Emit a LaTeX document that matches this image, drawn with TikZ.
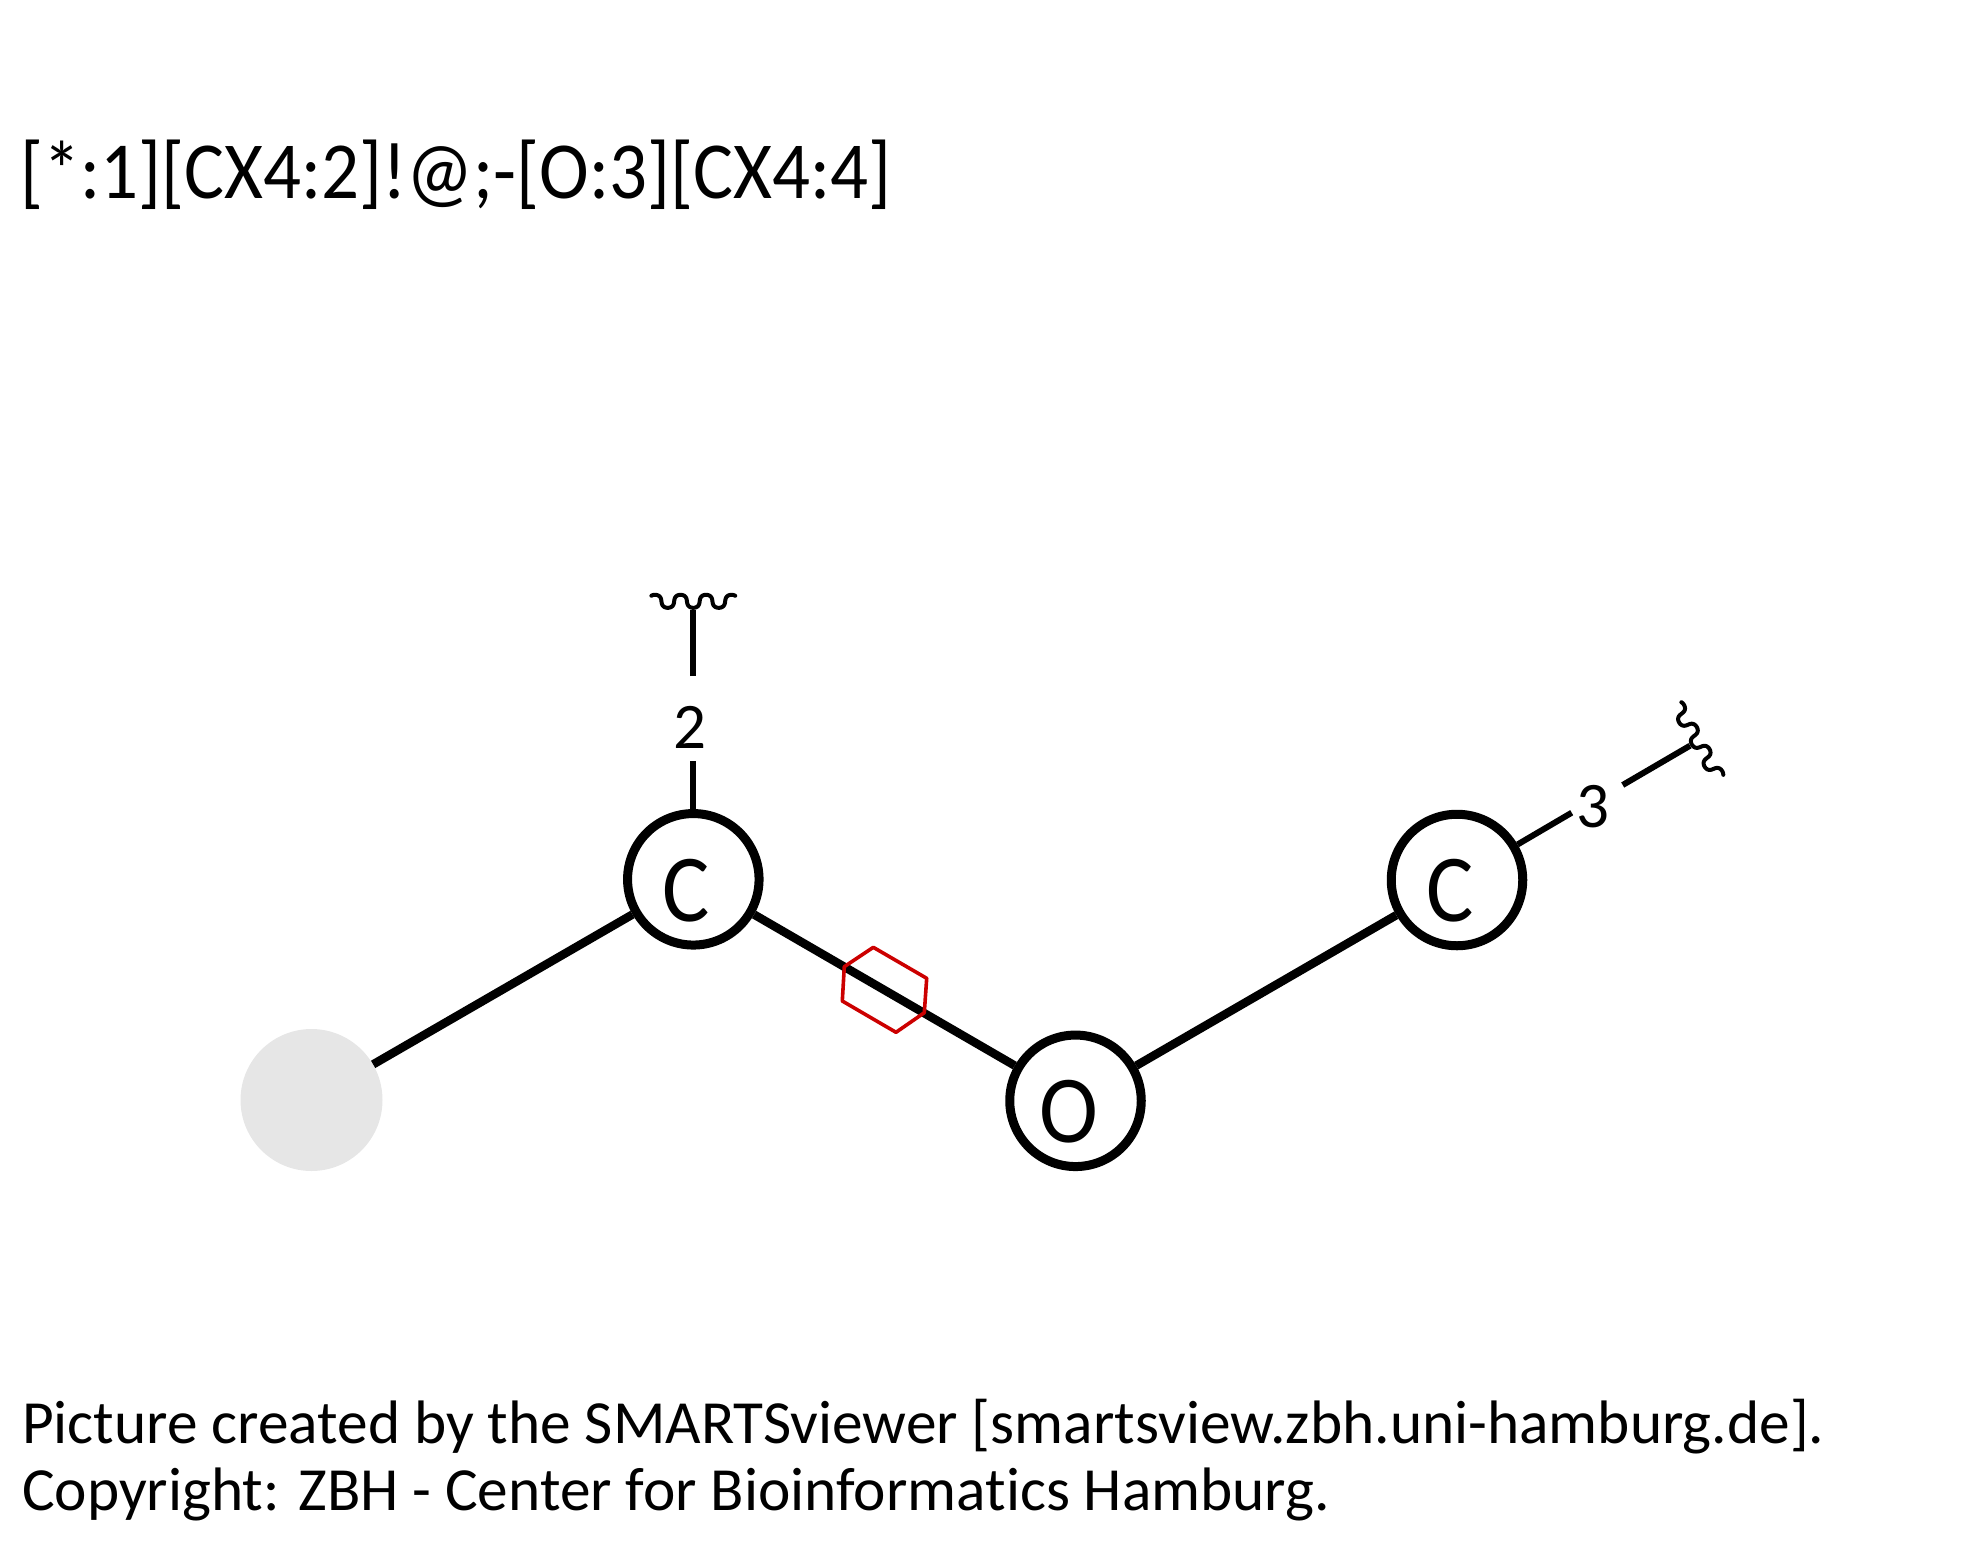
\documentclass[tikz,border=0pt]{standalone}
\usepackage{fontspec}
\setmainfont[Ligatures=NoCommon]{Carlito}
\newfontfamily\narrowfont[FakeStretch=0.925]{Carlito}
\definecolor{hexred}{HTML}{CC0000}
\definecolor{anygrey}{HTML}{E6E6E6}
\newcommand{\squig}[4]{% centre x, centre y, along-x, along-y (unit vector); offset points to the atom
  \draw[squiggle] plot[domain=-40.5:40.5,samples=240,variable=\t]
    ({#1+(\t+1.6*sin(28.235*\t))*(#3)-6.5*cos(14.118*\t)*(#4)},{#2+(\t+1.6*sin(28.235*\t))*(#4)+6.5*cos(14.118*\t)*(#3)});}
\tikzset{
  atomnode/.style={circle,draw=black,line width=9pt,fill=white,minimum size=131.5pt,inner sep=0pt},
  atomtext/.style={font=\narrowfont\fontsize{96}{96}\selectfont,inner sep=0pt,xshift=-7pt,yshift=-11pt},
  anynode/.style={circle,fill=anygrey,minimum size=142pt,inner sep=0pt},
  bondline/.style={line width=8.5pt,black},
  stubline/.style={line width=6pt,black},
  squiggle/.style={line width=4pt,black,line cap=round,line join=round},
  numlabel/.style={font=\fontsize{65}{65}\selectfont,inner sep=0pt},
  smarts/.style={anchor=base west,inner sep=0pt,font=\narrowfont\fontsize{81}{81}\selectfont},
  credit/.style={anchor=base west,inner sep=0pt,font=\fontsize{61.35}{61.35}\selectfont},
  hexmark/.style={draw=hexred,line width=3.6pt,line join=round}
}
\begin{document}
\begin{tikzpicture}[x=1pt,y=-1pt]
\useasboundingbox (0,0) rectangle (1984,1550);
\node[smarts] (title) at (20,198) {[*:1][CX4:2]!@;-[O:3][CX4:4]};
\node[anynode] (a1) at (311.5,1100) {};
\node[atomnode,label={[atomtext]center:C}] (c1) at (693.3,879.3) {};
\node[atomnode,label={[atomtext]center:O}] (o1) at (1075.5,1100.8) {};
\node[atomnode,label={[atomtext]center:C}] (c2) at (1457,880) {};
\draw[bondline] (a1) -- (c1);
\draw[bondline] (c1) -- (o1);
\draw[bondline] (o1) -- (c2);
\node[numlabel] (n2) at (689.5,727) {2};
\node[numlabel] (n3) at (1593.3,806.7) {3};
\coordinate (s2a) at (693.3,761);
\coordinate (s2b) at (693.3,676);
\coordinate (s2c) at (693.3,610);
\draw[stubline] (c1) -- (s2a);
\draw[stubline] (s2b) -- (s2c);
\coordinate (s3a) at (1571.7,812.7);
\coordinate (s3b) at (1622.7,785);
\coordinate (s3c) at (1690,745.7);
\draw[stubline] (c2) -- (s3a);
\draw[stubline] (s3b) -- (s3c);
\squig{693.3}{601.3}{1}{0}
\squig{1697.5}{741.3}{0.5}{0.866}
\draw[hexmark] (873.3,947.3) -- (926.7,978.3) -- (924.3,1012.7) -- (896,1032.3) -- (842.3,1001) -- (844.3,966.7) -- cycle;
\node[credit] (l1) at (22,1443) {Picture created by the SMARTSviewer [smartsview.zbh.uni-hamburg.de].};
\node[credit] (l2) at (22,1510) {Copyright: ZBH - Center for Bioinformatics Hamburg.};
\end{tikzpicture}
\end{document}
